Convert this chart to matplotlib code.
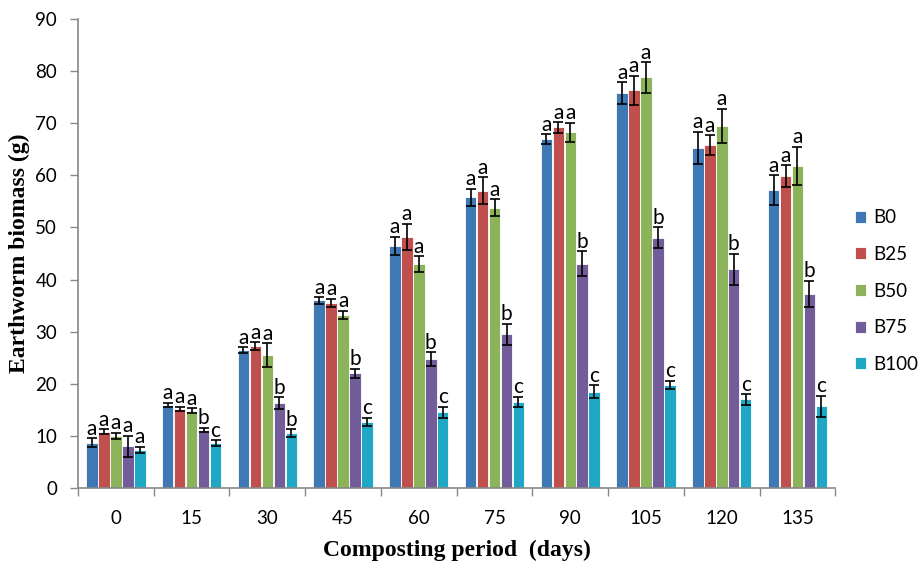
import matplotlib
matplotlib.use("Agg")
import matplotlib.pyplot as plt
import numpy as np

periods = ["0", "15", "30", "45", "60", "75", "90", "105", "120", "135"]
series = ["B0", "B25", "B50", "B75", "B100"]

B0 = [8.7, 16.0, 26.5, 36.0, 46.5, 55.8, 67.0, 75.8, 65.3, 57.2]
B25 = [10.8, 15.2, 27.2, 35.5, 48.2, 57.1, 69.2, 76.3, 65.8, 59.9]
B50 = [10.0, 14.8, 25.5, 33.2, 43.0, 53.8, 68.3, 78.8, 69.5, 61.8]
B75 = [8.0, 11.2, 16.3, 22.0, 24.8, 29.5, 43.0, 48.0, 42.0, 37.3]
B100 = [7.3, 8.6, 10.5, 12.7, 14.5, 16.5, 18.5, 19.8, 17.0, 15.7]

B0_err = [0.8, 0.4, 0.5, 0.6, 1.7, 1.6, 0.9, 2.1, 3.1, 2.8]
B25_err = [0.5, 0.4, 0.8, 0.8, 2.5, 2.5, 1.0, 2.8, 1.9, 2.1]
B50_err = [0.6, 0.5, 2.3, 0.8, 1.5, 1.6, 1.8, 2.9, 3.3, 3.7]
B75_err = [2.0, 0.4, 1.1, 0.9, 1.3, 2.0, 2.4, 2.0, 3.0, 2.5]
B100_err = [0.6, 0.6, 0.8, 0.8, 1.1, 1.0, 1.2, 0.8, 1.0, 2.0]

L_B0 = ["a"] * 10
L_B25 = ["a"] * 10
L_B50 = ["a"] * 10
L_B75 = ["a", "b", "b", "b", "b", "b", "b", "b", "b", "b"]
L_B100 = ["a", "c", "b", "c", "c", "c", "c", "c", "c", "c"]

values = [B0, B25, B50, B75, B100]
errors = [B0_err, B25_err, B50_err, B75_err, B100_err]
letters = [L_B0, L_B25, L_B50, L_B75, L_B100]
colors = ["#3E79B6", "#C0504D", "#8AB35A", "#735C9A", "#1FA7C5"]

fig = plt.figure(figsize=(9.21, 5.62), dpi=100)
ax = fig.add_axes([0.0847, 0.1317, 0.8223, 0.8343])

x = np.arange(len(periods))
step = 0.158
width = 0.152
for i, (v, e, lab, c, name) in enumerate(zip(values, errors, letters, colors, series)):
    pos = x + (i - 2) * step
    ax.bar(pos, v, width=width, color=c, edgecolor="white", linewidth=0.6,
           label=name, zorder=2)
    ax.errorbar(pos, v, yerr=e, fmt="none", ecolor="black", elinewidth=1.2,
                capsize=3.5, capthick=1.2, zorder=3)
    for p, val, err, t in zip(pos, v, e, lab):
        ax.text(p, val + err - 0.1, t, ha="center", va="bottom",
                fontsize=15, family="Lato", zorder=4)

ax.set_xlim(-0.5, len(periods) - 0.5)
ax.set_ylim(0, 90)
ax.set_yticks(np.arange(0, 91, 10))
ax.set_xticks(x)
ax.set_xticklabels(periods)
ax.set_xticks(np.arange(-0.5, len(periods), 1.0), minor=True)
ax.tick_params(axis="x", which="major", length=0, pad=16)
ax.tick_params(axis="x", which="minor", length=6, color="#888888", width=1)
ax.tick_params(axis="y", length=6, color="#888888", width=1, pad=9)
for lbl in ax.get_xticklabels() + ax.get_yticklabels():
    lbl.set_family("Lato")
    lbl.set_fontsize(13.5)

for s in ["top", "right"]:
    ax.spines[s].set_visible(False)
for s in ["left", "bottom"]:
    ax.spines[s].set_color("#888888")
    ax.spines[s].set_linewidth(1.2)

ax.set_ylabel("Earthworm biomass (g)", family="Liberation Serif",
              fontweight="bold", fontsize=17, labelpad=4)
ax.set_xlabel("Composting period  (days)", family="Liberation Serif",
              fontweight="bold", fontsize=17, labelpad=9)

leg = ax.legend(loc="center left", bbox_to_anchor=(1.008, 0.42), frameon=False,
                handlelength=0.6, handleheight=0.6, handletextpad=0.4,
                labelspacing=1.05, borderaxespad=0.3,
                prop={"family": "Lato", "size": 13.5})

fig.savefig("out.png", dpi=100)
